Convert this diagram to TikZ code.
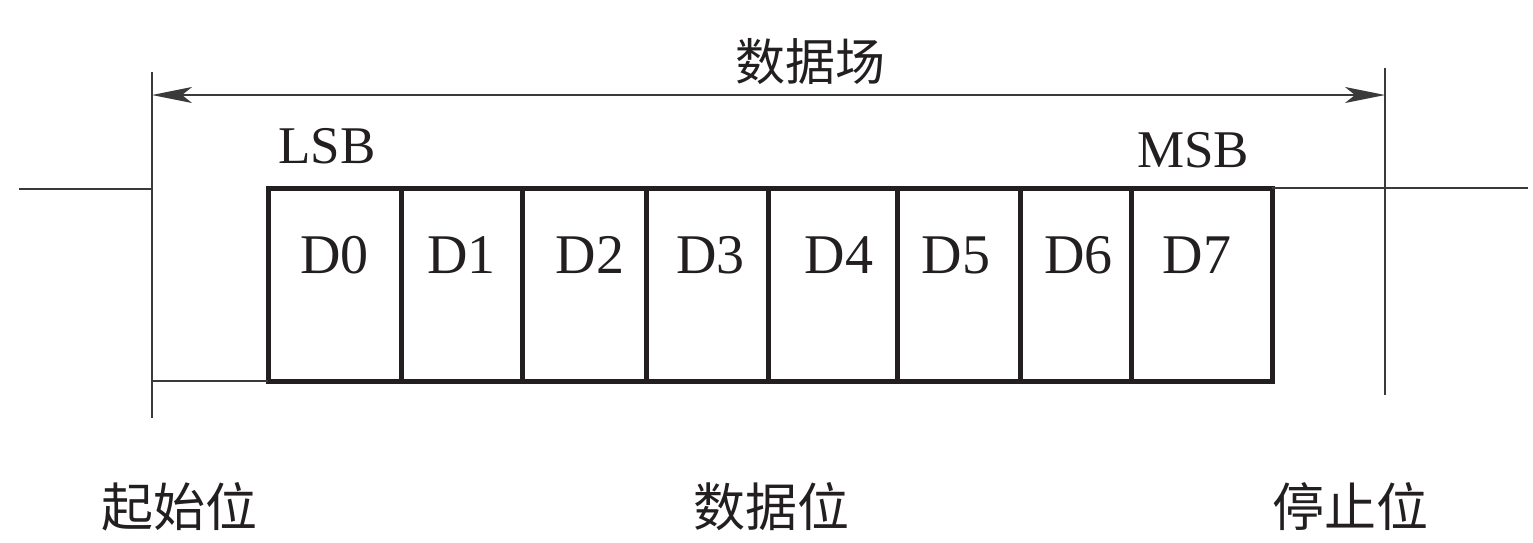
\documentclass[tikz,border=0pt]{standalone}
\usepackage{fontspec}
\setmainfont{Liberation Serif}
\newfontfamily\cjk{Noto Sans CJK SC}
\usetikzlibrary{arrows.meta,calc}
\definecolor{ink}{HTML}{231F20}
\definecolor{thinink}{HTML}{3A3A3A}
\begin{document}
\begin{tikzpicture}[x=1pt,y=-1pt,
  wire/.style={line width=2pt, draw=thinink},
  cellbox/.style={draw=ink, line width=5pt, inner sep=0pt, outer sep=0pt, anchor=north west, minimum height=193pt},
  celltext/.style={anchor=base, font=\fontsize{56}{60}\selectfont, text=ink},
  endlabel/.style={anchor=base, font=\fontsize{53}{58}\selectfont, text=ink},
  cjklabel/.style={font=\cjk\fontsize{50}{56}\selectfont, text=ink, inner sep=0pt},
  dimarrow/.style={line width=2pt, draw=thinink, {Stealth[length=40pt,width=16pt,inset=10pt]}-{Stealth[length=40pt,width=16pt,inset=10pt]}}
]
\useasboundingbox (0,0) rectangle (1533,542);

% cells
\node[cellbox, minimum width=133pt] (d0) at (268,188) {};
\node[cellbox, minimum width=121pt] (d1) at (401,188) {};
\node[cellbox, minimum width=124pt] (d2) at (522,188) {};
\node[cellbox, minimum width=122pt] (d3) at (646,188) {};
\node[cellbox, minimum width=129pt] (d4) at (768,188) {};
\node[cellbox, minimum width=123pt] (d5) at (897,188) {};
\node[cellbox, minimum width=111pt] (d6) at (1020,188) {};
\node[cellbox, minimum width=141pt] (d7) at (1131,188) {};

\foreach \i/\dx in {0/0,1/0,2/6,3/3.5,4/6.5,5/-2.5,6/3,7/-4.5}{
  \node[celltext] (t\i) at ($(d\i.north)+(\dx,85)$) {D\i};
}

% frame coordinates
\coordinate (ltop) at (152,72);
\coordinate (lbot) at (152,418);
\coordinate (rtop) at (1385,68);
\coordinate (rbot) at (1385,395);
\coordinate (lin) at (19,189);
\coordinate (lcorner) at (152,189);
\coordinate (lrest) at (152,381);
\coordinate (rout) at (1528,188);
\coordinate (al) at (152,95);
\coordinate (ar) at (1385,95);

\draw[wire] (ltop) -- (lbot);
\draw[wire] (rtop) -- (rbot);
\draw[wire] (lin) -- (lcorner);
\draw[wire] (lrest) -- (d0.south west);
\draw[wire] (d7.north east) -- (rout);
\draw[dimarrow] (al) -- (ar);

% labels
\node[cjklabel] (field) at (810,62) {数据场};
\node[endlabel] (lsb) at (327,163) {LSB};
\node[endlabel] (msb) at (1193,167) {MSB};
\node[cjklabel, font=\cjk\fontsize{52}{58}\selectfont] (start) at (179,507) {起始位};
\node[cjklabel, font=\cjk\fontsize{52}{58}\selectfont] (data) at (771,507) {数据位};
\node[cjklabel, font=\cjk\fontsize{52}{58}\selectfont] (stop) at (1350,507) {停止位};
\end{tikzpicture}
\end{document}
